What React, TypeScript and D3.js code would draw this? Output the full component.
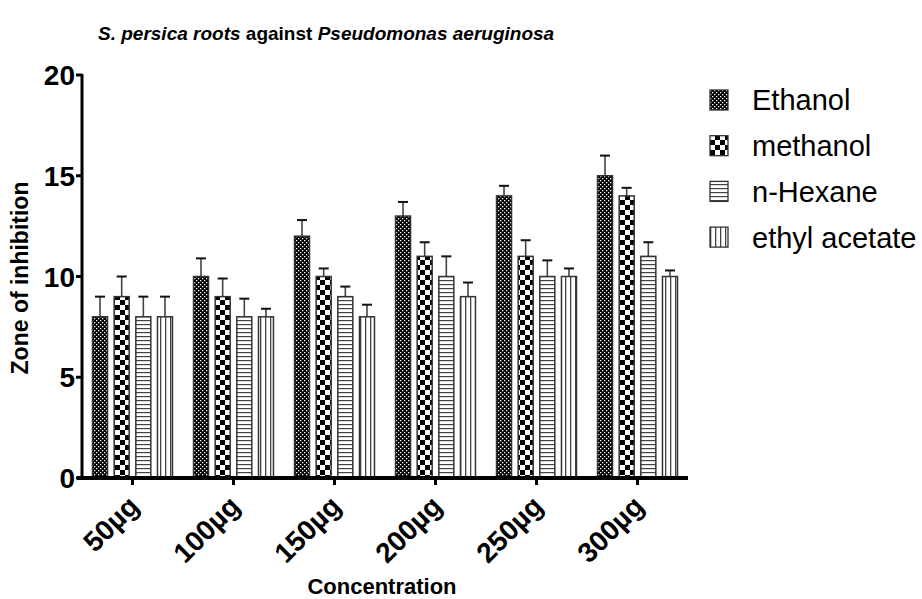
import React from "react";
import * as d3 from "d3";

const categories = ["50µg", "100µg", "150µg", "200µg", "250µg", "300µg"];
const seriesNames = ["Ethanol", "methanol", "n-Hexane", "ethyl acetate"];
const ethanol = [8, 10, 12, 13, 14, 15];
const ethanolErr = [1, 0.9, 0.8, 0.7, 0.5, 1];
const methanol = [9, 9, 10, 11, 11, 14];
const methanolErr = [1, 0.9, 0.4, 0.7, 0.8, 0.4];
const hexane = [8, 8, 9, 10, 10, 11];
const hexaneErr = [1, 0.9, 0.5, 1, 0.8, 0.7];
const ethylAcetate = [8, 8, 8, 9, 10, 10];
const ethylAcetateErr = [1, 0.4, 0.6, 0.7, 0.4, 0.3];
const yTicks = [0, 5, 10, 15, 20];

const values = [ethanol, methanol, hexane, ethylAcetate];
const errors = [ethanolErr, methanolErr, hexaneErr, ethylAcetateErr];
const patternIds = ["pEth", "pMeth", "pHex", "pEa"];

const W = 922;
const H = 599;
const FONT = "'Liberation Sans', Arial, sans-serif";

export default function App() {
  const x0 = d3.scaleBand<string>().domain(categories).range([82, 688]).padding(0);
  const x1 = d3.scaleBand<string>().domain(seriesNames).range([-43.3, 43.3]).padding(0);
  const y = d3.scaleLinear().domain([0, 20]).range([478, 75]);
  const barW = 15;
  const off = (x1.bandwidth() - barW) / 2;

  return (
    <svg width={W} height={H} style={{ position: "absolute", left: 0, top: 0, background: "#fff" }} fontFamily={FONT}>
      <defs>
        <pattern id="pEth" width="4" height="4" patternUnits="userSpaceOnUse">
          <rect width="4" height="4" fill="#000" />
          <rect x="0" y="0" width="1.3" height="1.3" fill="#fff" />
          <rect x="2" y="2" width="1.3" height="1.3" fill="#fff" />
        </pattern>
        <pattern id="pMeth" width="10" height="10" patternUnits="userSpaceOnUse">
          <rect width="10" height="10" fill="#fff" />
          <rect x="0" y="0" width="5" height="5" fill="#000" />
          <rect x="5" y="5" width="5" height="5" fill="#000" />
        </pattern>
        <pattern id="pHex" width="4" height="4" patternUnits="userSpaceOnUse">
          <rect width="4" height="4" fill="#fff" />
          <rect x="0" y="0" width="4" height="1.2" fill="#444" />
        </pattern>
        <pattern id="pEa" width="5" height="5" patternUnits="userSpaceOnUse">
          <rect width="5" height="5" fill="#fff" />
          <rect x="0" y="0" width="1.3" height="5" fill="#444" />
        </pattern>
      </defs>

      {/* title */}
      <text x={98} y={40} fontSize={19} fontWeight="bold" fill="#000">
        <tspan fontStyle="italic">S. persica roots</tspan>
        <tspan> against </tspan>
        <tspan fontStyle="italic">Pseudomonas aeruginosa</tspan>
      </text>

      {/* bars */}
      {categories.map((c, ci) => (
        <g key={c}>
          {seriesNames.map((s, si) => {
            const v = values[si][ci];
            const e = errors[si][ci];
            const bx = (x0(c) as number) + x0.bandwidth() / 2 + (x1(s) as number) + off;
            const cx = bx + barW / 2;
            return (
              <g key={s}>
                <line x1={cx} x2={cx} y1={y(v)} y2={y(v + e)} stroke="#444" strokeWidth={1.6} />
                <line x1={cx - 5} x2={cx + 5} y1={y(v + e)} y2={y(v + e)} stroke="#111" strokeWidth={2} />
                <rect
                  x={bx}
                  y={y(v)}
                  width={barW}
                  height={y(0) - y(v)}
                  fill={`url(#${patternIds[si]})`}
                  stroke="#333"
                  strokeWidth={1.5}
                />
              </g>
            );
          })}
        </g>
      ))}

      {/* y axis */}
      <line x1={82} x2={82} y1={y(20) - 1} y2={y(0)} stroke="#000" strokeWidth={3} />
      {yTicks.map((t) => (
        <g key={t}>
          <line x1={76} x2={82} y1={y(t)} y2={y(t)} stroke="#000" strokeWidth={3} />
          <text x={75} y={y(t)} dy="0.36em" textAnchor="end" fontSize={28} fontWeight="bold" fill="#000">
            {t}
          </text>
        </g>
      ))}

      {/* x axis */}
      <line x1={77} x2={688} y1={y(0)} y2={y(0)} stroke="#000" strokeWidth={4} />
      {categories.map((c) => {
        const cx = (x0(c) as number) + x0.bandwidth() / 2;
        return (
          <g key={c}>
            <line x1={cx} x2={cx} y1={y(0)} y2={y(0) + 7} stroke="#000" strokeWidth={3} />
            <text
              transform={`translate(${cx + 8},${y(0) + 30}) rotate(-45)`}
              textAnchor="end"
              fontSize={28}
              fontWeight="bold"
              fill="#000"
            >
              {c}
            </text>
          </g>
        );
      })}

      <text x={382} y={594} textAnchor="middle" fontSize={22} fontWeight="bold" fill="#000">
        Concentration
      </text>
      <text transform={`translate(28,278) rotate(-90)`} textAnchor="middle" fontSize={23} fontWeight="bold" fill="#000">
        Zone of inhibition
      </text>

      {/* legend */}
      {seriesNames.map((s, i) => {
        const cy = 100 + i * 45.7;
        return (
          <g key={s}>
            <rect x={710} y={cy - 10} width={18} height={20} fill={`url(#${patternIds[i]})`} stroke="#333" strokeWidth={1.3} />
            <text x={752} y={cy} dy="0.36em" fontSize={29} fill="#000">
              {s}
            </text>
          </g>
        );
      })}
    </svg>
  );
}
